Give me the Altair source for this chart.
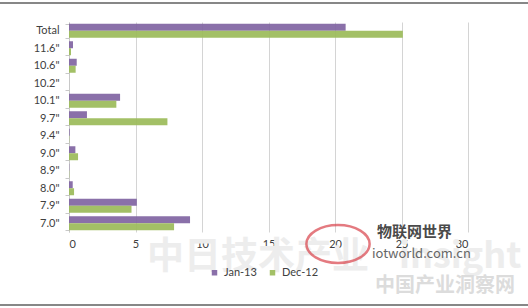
import altair as alt
import pandas as pd

# Screen sizes (categories, top to bottom) and shipments per month
sizes = ["Total", '11.6"', '10.6"', '10.2"', '10.1"', '9.7"', '9.4"', '9.0"', '8.9"', '8.0"', '7.9"', '7.0"']
jan13 = [20.8, 0.3, 0.58, 0.0, 3.84, 1.35, 0.05, 0.48, 0.02, 0.28, 5.1, 9.1]
dec12 = [25.1, 0.15, 0.5, 0.0, 3.56, 7.4, 0.02, 0.68, 0.02, 0.38, 4.7, 7.9]
series = ["Jan-13", "Dec-12"]
colors = ["#8064A2", "#9BBB59"]
x_ticks = [0, 5, 10, 15, 20, 25, 30]

# Watermark texts
wm_big = "中日技术产业"
wm_insight = "insight"
wm_brand = "物联网世界"
wm_site = "iotworld.com.cn"
wm_net = "中国产业洞察网"

W, H = 399, 210
FONT = "Lato"

rows = []
for i, s in enumerate(sizes):
    rows.append({"size": s, "series": series[0], "value": jan13[i]})
    rows.append({"size": s, "series": series[1], "value": dec12[i]})
df = pd.DataFrame(rows)

bars = alt.Chart(df).mark_bar(size=7, opacity=0.92).encode(
    y=alt.Y("size:N", sort=sizes, title=None,
            scale=alt.Scale(paddingInner=0.2, paddingOuter=0.1),
            axis=alt.Axis(labelFont=FONT, labelFontSize=11, labelColor="#404040",
                          labelPadding=6, domainColor="#c8c8c8", tickColor="#c8c8c8",
                          tickSize=4, tickBand="extent", grid=False)),
    yOffset=alt.YOffset("series:N", sort=series),
    x=alt.X("value:Q", title=None,
            scale=alt.Scale(domain=[0, 30], nice=False),
            axis=alt.Axis(values=x_ticks, labelFont=FONT, labelFontSize=11,
                          labelColor="#404040", labelPadding=6, domain=False,
                          ticks=False, grid=True, gridColor="#d4d4d4")),
    color=alt.Color("series:N", sort=series,
                    scale=alt.Scale(domain=series, range=colors),
                    legend=alt.Legend(title=None, orient="none", direction="horizontal",
                                      legendX=140, legendY=245, symbolType="square",
                                      symbolSize=30, labelFont=FONT, labelFontSize=11,
                                      labelColor="#404040", columnPadding=10,
                                      symbolStrokeWidth=0)),
)

# Watermark overlay (pixel positions inside the plot frame)
wm_bold = pd.DataFrame({
    "t": [wm_big, wm_insight, wm_brand, wm_net],
    "px": [78, 330, 308, 306],
    "py": [218, 218, 203, 254],
    "fs": [37, 36, 15, 20],
    "c": ["#ededed", "#ededed", "#4a4a4a", "#dcdcdc"],
})
wm_plain = pd.DataFrame({
    "t": [wm_site],
    "px": [303],
    "py": [226],
    "fs": [13],
    "c": ["#666666"],
})


def wm_layer(data, weight):
    return alt.Chart(data).mark_text(align="left", baseline="top",
                                     font="Noto Sans CJK SC", fontWeight=weight).encode(
        x=alt.X("px:Q", scale=None),
        y=alt.Y("py:Q", scale=None),
        text="t:N",
        size=alt.Size("fs:Q", scale=None, legend=None),
        color=alt.Color("c:N", scale=None),
    )


logo = alt.Chart(pd.DataFrame({"a": [0]})).mark_point(
    shape="M-1,0 A1,0.6 0 1,1 1,0 A1,0.6 0 1,1 -1,0 Z",
    filled=False, stroke="#d9434b", strokeWidth=2.5, size=4000,
).encode(x=alt.value(269), y=alt.value(222))

# Horizontal frame lines above and below the chart
top_line = alt.Chart(pd.DataFrame({"a": [0]})).mark_rule(color="#111111", strokeWidth=1.2).encode(
    x=alt.value(-69), x2=alt.value(459), y=alt.value(-19))
bottom_line = alt.Chart(pd.DataFrame({"a": [0]})).mark_rule(color="#111111", strokeWidth=1.2).encode(
    x=alt.value(-69), x2=alt.value(459), y=alt.value(283))

chart = alt.layer(bars, wm_layer(wm_bold, "bold"), wm_layer(wm_plain, "normal"),
                  logo, top_line, bottom_line).resolve_scale(
    color="independent", size="independent"
).properties(
    width=W, height=H,
    autosize=alt.AutoSizeParams(type="none"),
    padding={"left": 69, "top": 22, "right": 60, "bottom": 76},
    background="white",
).configure_view(stroke=None)

chart.save("out.html", embed_options={"renderer": "svg", "actions": False})
